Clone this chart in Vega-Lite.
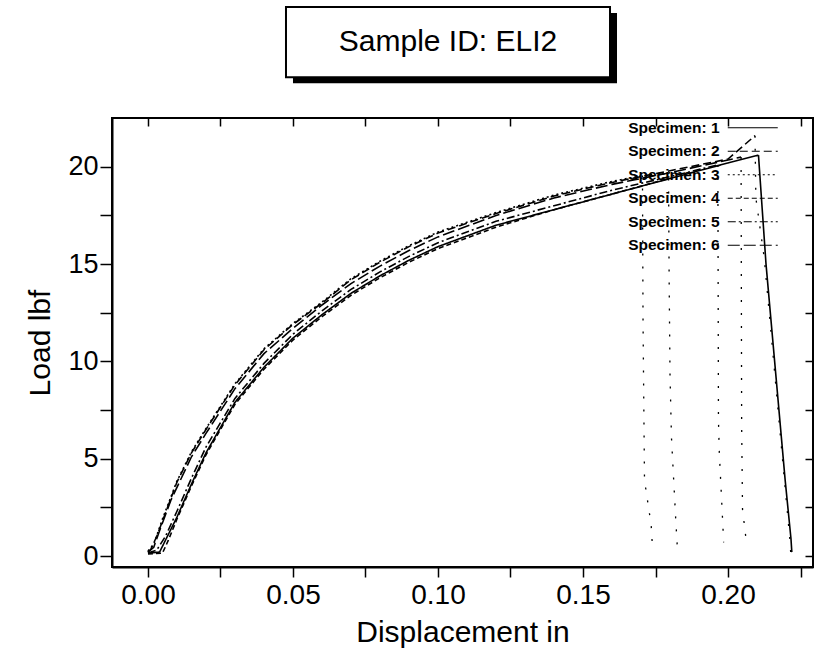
{
  "$schema": "https://vega.github.io/schema/vega-lite/v6.json",
  "width": 701,
  "height": 449,
  "autosize": {"type": "none"},
  "padding": {"left": 112, "top": 118, "right": 4, "bottom": 89},
  "background": "white",
  "config": {
    "font": "Liberation Sans",
    "view": {"stroke": "black", "strokeWidth": 2},
    "axis": {"grid": false, "domainColor": "black", "domainWidth": 2, "tickColor": "black", "tickWidth": 1.5, "labelColor": "black", "titleColor": "black", "labelFont": "Liberation Sans", "titleFont": "Liberation Sans", "titleFontWeight": "normal"}
  },
  "datasets": {
    "title": [{"label": "Sample ID: ELI2"}],
    "curves": [
      {"s": "Specimen: 1", "p": "load", "x": 0, "y": 0.15},
      {"s": "Specimen: 1", "p": "load", "x": 0.004, "y": 0.2},
      {"s": "Specimen: 1", "p": "load", "x": 0.006, "y": 0.8},
      {"s": "Specimen: 1", "p": "load", "x": 0.01, "y": 2.0},
      {"s": "Specimen: 1", "p": "load", "x": 0.015, "y": 3.7},
      {"s": "Specimen: 1", "p": "load", "x": 0.02, "y": 5.3},
      {"s": "Specimen: 1", "p": "load", "x": 0.03, "y": 7.9},
      {"s": "Specimen: 1", "p": "load", "x": 0.04, "y": 9.7},
      {"s": "Specimen: 1", "p": "load", "x": 0.05, "y": 11.2},
      {"s": "Specimen: 1", "p": "load", "x": 0.06, "y": 12.4},
      {"s": "Specimen: 1", "p": "load", "x": 0.07, "y": 13.5},
      {"s": "Specimen: 1", "p": "load", "x": 0.08, "y": 14.4},
      {"s": "Specimen: 1", "p": "load", "x": 0.09, "y": 15.2},
      {"s": "Specimen: 1", "p": "load", "x": 0.1, "y": 15.9},
      {"s": "Specimen: 1", "p": "load", "x": 0.12, "y": 17.0},
      {"s": "Specimen: 1", "p": "load", "x": 0.14, "y": 17.8},
      {"s": "Specimen: 1", "p": "load", "x": 0.16, "y": 18.6},
      {"s": "Specimen: 1", "p": "load", "x": 0.18, "y": 19.4},
      {"s": "Specimen: 1", "p": "load", "x": 0.2, "y": 20.2},
      {"s": "Specimen: 1", "p": "load", "x": 0.2105, "y": 20.6},
      {"s": "Specimen: 1", "p": "break", "x": 0.2105, "y": 20.6},
      {"s": "Specimen: 1", "p": "break", "x": 0.2131, "y": 15.0},
      {"s": "Specimen: 1", "p": "break", "x": 0.2197, "y": 3.9},
      {"s": "Specimen: 1", "p": "break", "x": 0.2217, "y": 0.9},
      {"s": "Specimen: 1", "p": "break", "x": 0.222, "y": 0.2},

      {"s": "Specimen: 2", "p": "load", "x": 0, "y": 0.2},
      {"s": "Specimen: 2", "p": "load", "x": 0.001, "y": 0.35},
      {"s": "Specimen: 2", "p": "load", "x": 0.003, "y": 1.0},
      {"s": "Specimen: 2", "p": "load", "x": 0.006, "y": 2.2},
      {"s": "Specimen: 2", "p": "load", "x": 0.01, "y": 3.8},
      {"s": "Specimen: 2", "p": "load", "x": 0.015, "y": 5.3},
      {"s": "Specimen: 2", "p": "load", "x": 0.02, "y": 6.5},
      {"s": "Specimen: 2", "p": "load", "x": 0.03, "y": 8.8},
      {"s": "Specimen: 2", "p": "load", "x": 0.04, "y": 10.6},
      {"s": "Specimen: 2", "p": "load", "x": 0.05, "y": 11.9},
      {"s": "Specimen: 2", "p": "load", "x": 0.06, "y": 13.0},
      {"s": "Specimen: 2", "p": "load", "x": 0.07, "y": 14.2},
      {"s": "Specimen: 2", "p": "load", "x": 0.08, "y": 15.1},
      {"s": "Specimen: 2", "p": "load", "x": 0.09, "y": 15.9},
      {"s": "Specimen: 2", "p": "load", "x": 0.1, "y": 16.6},
      {"s": "Specimen: 2", "p": "load", "x": 0.12, "y": 17.6},
      {"s": "Specimen: 2", "p": "load", "x": 0.14, "y": 18.5},
      {"s": "Specimen: 2", "p": "load", "x": 0.16, "y": 19.2},
      {"s": "Specimen: 2", "p": "load", "x": 0.18, "y": 19.8},
      {"s": "Specimen: 2", "p": "load", "x": 0.2, "y": 20.4},
      {"s": "Specimen: 2", "p": "load", "x": 0.2093, "y": 21.6},
      {"s": "Specimen: 2", "p": "break", "x": 0.2093, "y": 21.6},
      {"s": "Specimen: 2", "p": "break", "x": 0.2096, "y": 18.4},
      {"s": "Specimen: 2", "p": "break", "x": 0.2125, "y": 15.3},
      {"s": "Specimen: 2", "p": "break", "x": 0.2192, "y": 4.3},
      {"s": "Specimen: 2", "p": "break", "x": 0.2213, "y": 0.9},
      {"s": "Specimen: 2", "p": "break", "x": 0.2216, "y": 0.2},

      {"s": "Specimen: 3", "p": "load", "x": 0, "y": 0.25},
      {"s": "Specimen: 3", "p": "load", "x": 0.002, "y": 0.6},
      {"s": "Specimen: 3", "p": "load", "x": 0.005, "y": 1.9},
      {"s": "Specimen: 3", "p": "load", "x": 0.01, "y": 3.85},
      {"s": "Specimen: 3", "p": "load", "x": 0.015, "y": 5.35},
      {"s": "Specimen: 3", "p": "load", "x": 0.02, "y": 6.55},
      {"s": "Specimen: 3", "p": "load", "x": 0.03, "y": 8.85},
      {"s": "Specimen: 3", "p": "load", "x": 0.04, "y": 10.65},
      {"s": "Specimen: 3", "p": "load", "x": 0.05, "y": 11.95},
      {"s": "Specimen: 3", "p": "load", "x": 0.06, "y": 13.05},
      {"s": "Specimen: 3", "p": "load", "x": 0.07, "y": 14.25},
      {"s": "Specimen: 3", "p": "load", "x": 0.08, "y": 15.15},
      {"s": "Specimen: 3", "p": "load", "x": 0.09, "y": 15.95},
      {"s": "Specimen: 3", "p": "load", "x": 0.1, "y": 16.65},
      {"s": "Specimen: 3", "p": "load", "x": 0.12, "y": 17.65},
      {"s": "Specimen: 3", "p": "load", "x": 0.14, "y": 18.55},
      {"s": "Specimen: 3", "p": "load", "x": 0.16, "y": 19.25},
      {"s": "Specimen: 3", "p": "load", "x": 0.1705, "y": 19.55},
      {"s": "Specimen: 3", "p": "break", "x": 0.1705, "y": 19.55},
      {"s": "Specimen: 3", "p": "break", "x": 0.1707, "y": 12.0},
      {"s": "Specimen: 3", "p": "break", "x": 0.1712, "y": 3.9},
      {"s": "Specimen: 3", "p": "break", "x": 0.1735, "y": 1.6},
      {"s": "Specimen: 3", "p": "break", "x": 0.174, "y": 0.3},

      {"s": "Specimen: 4", "p": "load", "x": 0, "y": 0.1},
      {"s": "Specimen: 4", "p": "load", "x": 0.005, "y": 0.15},
      {"s": "Specimen: 4", "p": "load", "x": 0.007, "y": 0.8},
      {"s": "Specimen: 4", "p": "load", "x": 0.01, "y": 1.9},
      {"s": "Specimen: 4", "p": "load", "x": 0.015, "y": 3.6},
      {"s": "Specimen: 4", "p": "load", "x": 0.02, "y": 5.2},
      {"s": "Specimen: 4", "p": "load", "x": 0.03, "y": 7.8},
      {"s": "Specimen: 4", "p": "load", "x": 0.04, "y": 9.6},
      {"s": "Specimen: 4", "p": "load", "x": 0.05, "y": 11.1},
      {"s": "Specimen: 4", "p": "load", "x": 0.06, "y": 12.3},
      {"s": "Specimen: 4", "p": "load", "x": 0.07, "y": 13.4},
      {"s": "Specimen: 4", "p": "load", "x": 0.08, "y": 14.3},
      {"s": "Specimen: 4", "p": "load", "x": 0.09, "y": 15.1},
      {"s": "Specimen: 4", "p": "load", "x": 0.1, "y": 15.8},
      {"s": "Specimen: 4", "p": "load", "x": 0.12, "y": 16.9},
      {"s": "Specimen: 4", "p": "load", "x": 0.14, "y": 17.8},
      {"s": "Specimen: 4", "p": "load", "x": 0.16, "y": 18.6},
      {"s": "Specimen: 4", "p": "load", "x": 0.1795, "y": 19.4},
      {"s": "Specimen: 4", "p": "break", "x": 0.1795, "y": 19.4},
      {"s": "Specimen: 4", "p": "break", "x": 0.1797, "y": 14.2},
      {"s": "Specimen: 4", "p": "break", "x": 0.18, "y": 9.3},
      {"s": "Specimen: 4", "p": "break", "x": 0.1805, "y": 6.1},
      {"s": "Specimen: 4", "p": "break", "x": 0.182, "y": 1.8},
      {"s": "Specimen: 4", "p": "break", "x": 0.1825, "y": 0.5},

      {"s": "Specimen: 5", "p": "load", "x": 0, "y": 0.15},
      {"s": "Specimen: 5", "p": "load", "x": 0.003, "y": 0.3},
      {"s": "Specimen: 5", "p": "load", "x": 0.006, "y": 1.0},
      {"s": "Specimen: 5", "p": "load", "x": 0.01, "y": 2.3},
      {"s": "Specimen: 5", "p": "load", "x": 0.015, "y": 4.0},
      {"s": "Specimen: 5", "p": "load", "x": 0.02, "y": 5.6},
      {"s": "Specimen: 5", "p": "load", "x": 0.03, "y": 8.1},
      {"s": "Specimen: 5", "p": "load", "x": 0.04, "y": 9.9},
      {"s": "Specimen: 5", "p": "load", "x": 0.05, "y": 11.4},
      {"s": "Specimen: 5", "p": "load", "x": 0.06, "y": 12.6},
      {"s": "Specimen: 5", "p": "load", "x": 0.07, "y": 13.7},
      {"s": "Specimen: 5", "p": "load", "x": 0.08, "y": 14.6},
      {"s": "Specimen: 5", "p": "load", "x": 0.09, "y": 15.4},
      {"s": "Specimen: 5", "p": "load", "x": 0.1, "y": 16.1},
      {"s": "Specimen: 5", "p": "load", "x": 0.12, "y": 17.2},
      {"s": "Specimen: 5", "p": "load", "x": 0.14, "y": 18.0},
      {"s": "Specimen: 5", "p": "load", "x": 0.16, "y": 18.8},
      {"s": "Specimen: 5", "p": "load", "x": 0.18, "y": 19.5},
      {"s": "Specimen: 5", "p": "load", "x": 0.1965, "y": 20.1},
      {"s": "Specimen: 5", "p": "break", "x": 0.1965, "y": 20.1},
      {"s": "Specimen: 5", "p": "break", "x": 0.1967, "y": 7.0},
      {"s": "Specimen: 5", "p": "break", "x": 0.197, "y": 5.3},
      {"s": "Specimen: 5", "p": "break", "x": 0.1985, "y": 0.7},

      {"s": "Specimen: 6", "p": "load", "x": 0, "y": 0.2},
      {"s": "Specimen: 6", "p": "load", "x": 0.002, "y": 0.45},
      {"s": "Specimen: 6", "p": "load", "x": 0.004, "y": 1.3},
      {"s": "Specimen: 6", "p": "load", "x": 0.008, "y": 2.9},
      {"s": "Specimen: 6", "p": "load", "x": 0.015, "y": 5.1},
      {"s": "Specimen: 6", "p": "load", "x": 0.02, "y": 6.3},
      {"s": "Specimen: 6", "p": "load", "x": 0.03, "y": 8.6},
      {"s": "Specimen: 6", "p": "load", "x": 0.04, "y": 10.4},
      {"s": "Specimen: 6", "p": "load", "x": 0.05, "y": 11.7},
      {"s": "Specimen: 6", "p": "load", "x": 0.06, "y": 12.9},
      {"s": "Specimen: 6", "p": "load", "x": 0.07, "y": 14.0},
      {"s": "Specimen: 6", "p": "load", "x": 0.08, "y": 14.9},
      {"s": "Specimen: 6", "p": "load", "x": 0.09, "y": 15.7},
      {"s": "Specimen: 6", "p": "load", "x": 0.1, "y": 16.4},
      {"s": "Specimen: 6", "p": "load", "x": 0.12, "y": 17.5},
      {"s": "Specimen: 6", "p": "load", "x": 0.14, "y": 18.4},
      {"s": "Specimen: 6", "p": "load", "x": 0.16, "y": 19.1},
      {"s": "Specimen: 6", "p": "load", "x": 0.18, "y": 19.7},
      {"s": "Specimen: 6", "p": "load", "x": 0.2045, "y": 20.5},
      {"s": "Specimen: 6", "p": "break", "x": 0.2045, "y": 20.5},
      {"s": "Specimen: 6", "p": "break", "x": 0.2047, "y": 6.7},
      {"s": "Specimen: 6", "p": "break", "x": 0.205, "y": 2.4},
      {"s": "Specimen: 6", "p": "break", "x": 0.2065, "y": 0.5}
    ]
  },
  "layer": [
    {
      "data": {"name": "title"},
      "mark": {"type": "rect", "fill": "black", "xOffset": 7, "x2Offset": 7, "yOffset": 6, "y2Offset": 6},
      "encoding": {
        "x": {"datum": 0.04759, "type": "quantitative", "scale": {"domain": [-0.0124, 0.2293], "nice": false, "zero": false}, "axis": null},
        "x2": {"datum": 0.15931},
        "y": {"datum": 28.21, "type": "quantitative", "scale": {"domain": [-0.565, 22.51], "nice": false, "zero": false}, "axis": null},
        "y2": {"datum": 24.61}
      }
    },
    {
      "data": {"name": "title"},
      "mark": {"type": "rect", "fill": "white", "stroke": "black", "strokeWidth": 2},
      "encoding": {
        "x": {"datum": 0.04759, "type": "quantitative", "axis": null},
        "x2": {"datum": 0.15931},
        "y": {"datum": 28.21, "type": "quantitative", "axis": null},
        "y2": {"datum": 24.61}
      }
    },
    {
      "data": {"name": "title"},
      "mark": {"type": "text", "fontSize": 30, "font": "Liberation Sans", "align": "center", "baseline": "middle", "color": "black"},
      "encoding": {
        "x": {"datum": 0.10345, "type": "quantitative", "axis": null},
        "y": {"datum": 26.41, "type": "quantitative", "axis": null},
        "text": {"field": "label"}
      }
    },
    {
      "data": {"name": "curves"},
      "transform": [{"filter": "datum.p == 'load'"}],
      "mark": {"type": "line", "color": "black", "strokeWidth": 1.6},
      "encoding": {
        "x": {"field": "x", "type": "quantitative", "title": "Displacement in",
          "axis": {"orient": "bottom", "values": [0, 0.025, 0.05, 0.075, 0.1, 0.125, 0.15, 0.175, 0.2, 0.225],
            "labelExpr": "(round(datum.value * 1000) % 50 == 0) ? format(datum.value, '.2f') : ''",
            "tickSize": 10, "labelFontSize": 28, "labelPadding": 4, "titleFontSize": 30, "titlePadding": 8, "labelFlush": false}},
        "y": {"field": "y", "type": "quantitative", "title": "Load lbf",
          "axis": {"orient": "left", "values": [0, 2.5, 5, 7.5, 10, 12.5, 15, 17.5, 20],
            "labelExpr": "(round(datum.value * 10) % 50 == 0) ? format(datum.value, 'd') : ''",
            "tickSize": 12, "labelFontSize": 27, "labelPadding": 2, "titleFontSize": 30, "titlePadding": 12}},
        "strokeDash": {"field": "s", "type": "nominal",
          "scale": {"domain": ["Specimen: 1", "Specimen: 2", "Specimen: 3", "Specimen: 4", "Specimen: 5", "Specimen: 6"],
            "range": [[1, 0], [8, 4], [2, 3], [5, 3], [8, 3, 2, 3], [12, 4]]},
          "legend": {"orient": "none", "legendX": 633, "legendY": 2, "title": null, "labelFontSize": 15.5, "labelFont": "Liberation Sans", "labelFontWeight": "bold", "labelColor": "black",
            "symbolType": "M-5,0H5", "symbolSize": 100, "symbolStrokeWidth": 1.2, "symbolStrokeColor": "black", "labelAlign": "right", "labelOffset": -41, "rowPadding": 6.5}},
        "detail": {"field": "s"}
      }
    },
    {
      "data": {"name": "curves"},
      "transform": [{"filter": "datum.p == 'break' && datum.s == 'Specimen: 1'"}],
      "mark": {"type": "line", "color": "black", "strokeWidth": 1.6},
      "encoding": {
        "x": {"field": "x", "type": "quantitative", "axis": {"orient": "top", "values": [0, 0.025, 0.05, 0.075, 0.1, 0.125, 0.15, 0.175, 0.2, 0.225], "labels": false, "title": null, "tickSize": -8, "domain": false}},
        "y": {"field": "y", "type": "quantitative", "axis": {"orient": "right", "values": [0, 2.5, 5, 7.5, 10, 12.5, 15, 17.5, 20], "labels": false, "title": null, "tickSize": -8, "domain": false}},
        "detail": {"field": "s"}
      }
    },
    {
      "data": {"name": "curves"},
      "transform": [{"filter": "datum.p == 'break' && datum.s != 'Specimen: 1'"}],
      "mark": {"type": "line", "color": "black", "strokeWidth": 1.3, "strokeDash": [2, 11]},
      "encoding": {
        "x": {"field": "x", "type": "quantitative", "axis": null},
        "y": {"field": "y", "type": "quantitative", "axis": null},
        "detail": {"field": "s"}
      }
    }
  ],
  "resolve": {"axis": {"x": "independent", "y": "independent"}}
}
